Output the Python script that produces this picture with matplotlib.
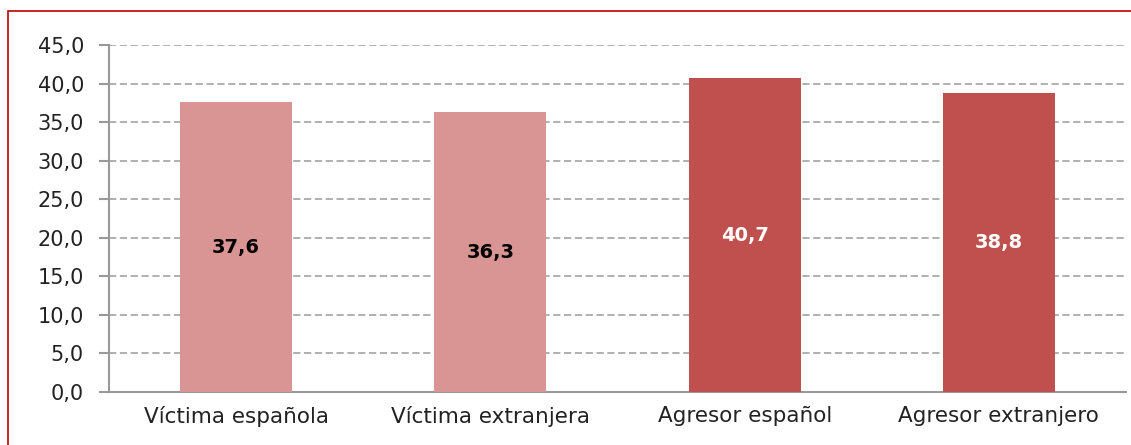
import matplotlib
matplotlib.use('Agg')
import matplotlib.pyplot as plt
from matplotlib.patches import Rectangle

# Datos
categorias = ['Víctima española', 'Víctima extranjera', 'Agresor español', 'Agresor extranjero']
valores = [37.6, 36.3, 40.7, 38.8]
colores = ['#D99594', '#D99594', '#C0504D', '#C0504D']
color_texto = ['black', 'black', 'white', 'white']
yticks = [0, 5, 10, 15, 20, 25, 30, 35, 40, 45]

plt.rcParams['font.family'] = ['DejaVu Sans']

fig = plt.figure(figsize=(11.31, 4.45), dpi=100)
ax = fig.add_axes([109 / 1131, 53 / 445, 1017 / 1131, 347 / 445])

x = range(len(categorias))
barras = ax.bar(x, valores, width=0.44, color=colores, zorder=3)
for b, v, c in zip(barras, valores, color_texto):
    ax.text(b.get_x() + b.get_width() / 2, v / 2, f'{v:.1f}'.replace('.', ','),
            ha='center', va='center', fontsize=14, fontweight='bold', color=c, zorder=4)

ax.set_xlim(-0.5, len(categorias) - 0.5)
ax.set_ylim(0, 45)
ax.set_yticks(yticks)
ax.set_yticklabels([f'{t:.1f}'.replace('.', ',') for t in yticks], fontsize=15, color='#222222')
ax.set_xticks(list(x))
ax.set_xticklabels(categorias, fontsize=15.5, color='#222222')
ax.tick_params(axis='x', length=0, pad=10)
ax.tick_params(axis='y', length=7, width=1.5, color='#999999', pad=11)

ax.grid(axis='y', linestyle=(0, (4, 2)), color='#AAAAAA', linewidth=1.3, zorder=0)
for s in ['top', 'right']:
    ax.spines[s].set_visible(False)
ax.spines['left'].set_color('#999999')
ax.spines['bottom'].set_color('#999999')
ax.spines['left'].set_linewidth(1.5)
ax.spines['bottom'].set_linewidth(1.5)

# marco rojo
fig.patches.append(Rectangle((8 / 1131, -0.2), 1.2, 1.2 - 11 / 445, transform=fig.transFigure,
                             fill=False, edgecolor='#C00000', linewidth=1.2))

fig.savefig('out.png', dpi=100)
